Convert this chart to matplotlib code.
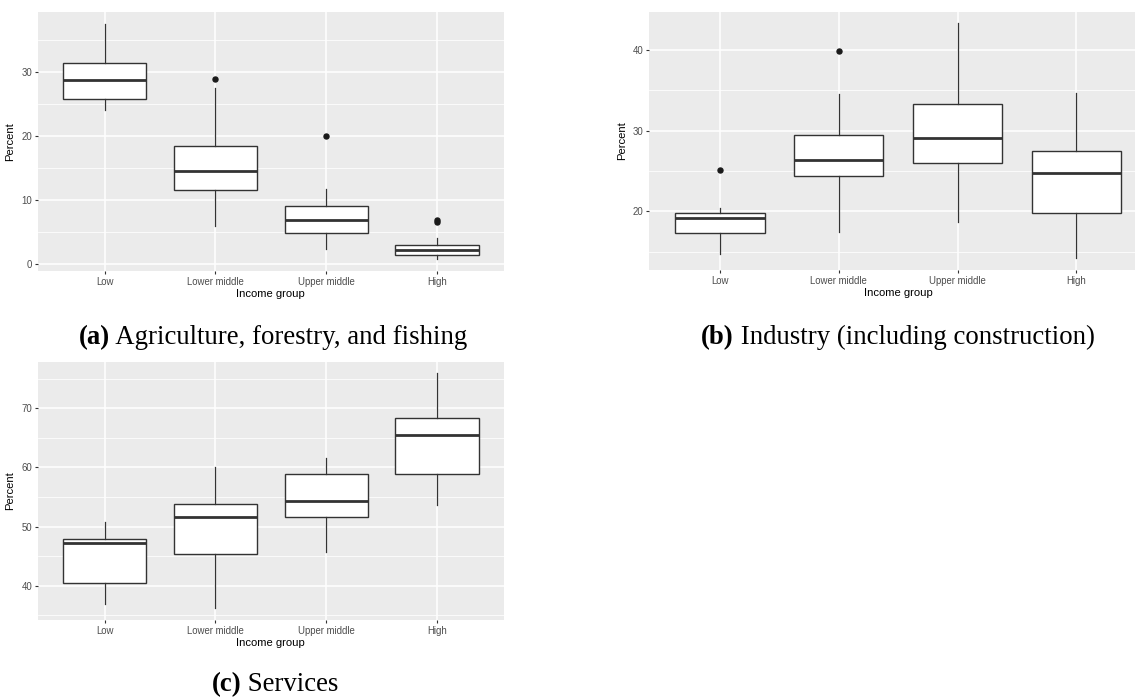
import matplotlib
matplotlib.use("Agg")
import matplotlib.pyplot as plt
from matplotlib.ticker import MultipleLocator

# Income groups on the x axis
groups = ["Low", "Lower middle", "Upper middle", "High"]

# (a) Agriculture, forestry, and fishing: share of GDP (%)
agri_whislo = [24.05, 5.9, 2.25, 0.68]
agri_q1 = [25.8, 11.55, 4.75, 1.3]
agri_med = [28.75, 14.5, 6.75, 2.1]
agri_q3 = [31.4, 18.4, 8.95, 2.98]
agri_whishi = [37.5, 27.5, 11.65, 3.95]
agri_fliers = [[], [28.9], [20.0], [6.5, 6.8]]

# (b) Industry (including construction)
ind_whislo = [14.7, 17.5, 18.7, 14.2]
ind_q1 = [17.3, 24.4, 25.95, 19.87]
ind_med = [19.2, 26.4, 29.1, 24.8]
ind_q3 = [19.83, 29.45, 33.3, 27.5]
ind_whishi = [20.37, 34.55, 43.3, 34.7]
ind_fliers = [[25.12], [39.9], [], []]

# (c) Services
serv_whislo = [37.0, 36.2, 45.7, 53.6]
serv_q1 = [40.4, 45.4, 51.6, 58.9]
serv_med = [47.15, 51.65, 54.3, 65.5]
serv_q3 = [47.95, 53.75, 58.9, 68.3]
serv_whishi = [50.85, 60.1, 61.6, 75.9]
serv_fliers = [[], [], [], []]

W, H = 1135, 697
fig = plt.figure(figsize=(W / 100, H / 100), dpi=100)
fig.patch.set_facecolor("white")

SANS = ["Liberation Sans", "DejaVu Sans"]
SERIF = ["Liberation Serif", "DejaVu Serif"]


def make_axes(left, top, width, height):
    return fig.add_axes([left / W, 1 - (top + height) / H, width / W, height / H])


def draw_panel(ax, whislo, q1, med, q3, whishi, fliers, major, ylabel_pad):
    stats = []
    for i in range(len(groups)):
        stats.append(dict(whislo=whislo[i], q1=q1[i], med=med[i], q3=q3[i],
                          whishi=whishi[i], fliers=fliers[i], label=groups[i]))
    ax.set_facecolor("#EBEBEB")
    ax.bxp(stats, positions=range(1, len(groups) + 1), widths=0.75,
           patch_artist=True, showcaps=False,
           boxprops=dict(facecolor="white", edgecolor="#333333", linewidth=1.0),
           medianprops=dict(color="#333333", linewidth=2.0, solid_capstyle="butt"),
           whiskerprops=dict(color="#333333", linewidth=0.9),
           flierprops=dict(marker="o", markerfacecolor="#1A1A1A",
                           markeredgecolor="#1A1A1A", markersize=3.6),
           zorder=3)
    lo = min(min(whislo), min([min(f) for f in fliers if f] or [1e9]))
    hi = max(max(whishi), max([max(f) for f in fliers if f] or [-1e9]))
    pad = (hi - lo) * 0.05
    ax.set_ylim(lo - pad, hi + pad)
    ax.set_xlim(0.4, len(groups) + 0.6)
    ax.yaxis.set_major_locator(MultipleLocator(major))
    ax.yaxis.set_minor_locator(MultipleLocator(major / 2))
    ax.grid(True, which="major", color="white", linewidth=1.1, zorder=0)
    ax.grid(True, which="minor", axis="y", color="white", linewidth=0.55, zorder=0)
    ax.set_axisbelow(True)
    for s in ax.spines.values():
        s.set_visible(False)
    ax.tick_params(which="major", length=2.5, width=0.8, color="#333333",
                   labelsize=6.9, labelcolor="#4D4D4D", pad=1.5)
    ax.tick_params(which="minor", length=0)
    ax.set_xticks(range(1, len(groups) + 1))
    ax.set_xticklabels(groups, fontfamily=SANS)
    for lbl in ax.get_yticklabels():
        lbl.set_fontfamily(SANS)
    ax.set_xlabel("Income group", fontsize=8.1, fontfamily=SANS, labelpad=1.5)
    ax.set_ylabel("Percent", fontsize=8.1, fontfamily=SANS, labelpad=ylabel_pad)


ax_a = make_axes(38, 12, 465.5, 259)
draw_panel(ax_a, agri_whislo, agri_q1, agri_med, agri_q3, agri_whishi,
           agri_fliers, 10, 5)

ax_b = make_axes(648.7, 11.7, 499, 258.3)
draw_panel(ax_b, ind_whislo, ind_q1, ind_med, ind_q3, ind_whishi,
           ind_fliers, 10, 4)

ax_c = make_axes(38, 361.7, 465.5, 258.3)
draw_panel(ax_c, serv_whislo, serv_q1, serv_med, serv_q3, serv_whishi,
           serv_fliers, 10, 5)


def caption(cx, baseline_y, tag, text):
    renderer = fig.canvas.get_renderer()
    size = 19.3
    t1 = fig.text(0, 0, tag, fontsize=size, fontweight="bold",
                  fontfamily=SERIF, va="baseline", ha="left")
    t2 = fig.text(0, 0, " " + text, fontsize=size, fontfamily=SERIF,
                  va="baseline", ha="left")
    w1 = t1.get_window_extent(renderer).width
    w2 = t2.get_window_extent(renderer).width
    x0 = cx - (w1 + w2) / 2
    yy = 1 - baseline_y / H
    t1.set_position((x0 / W, yy))
    t2.set_position(((x0 + w1) / W, yy))


caption(273, 344, "(a)", "Agriculture, forestry, and fishing")
caption(898, 344, "(b)", "Industry (including construction)")
caption(275, 691, "(c)", "Services")

fig.savefig("out.png", dpi=100, facecolor="white")
